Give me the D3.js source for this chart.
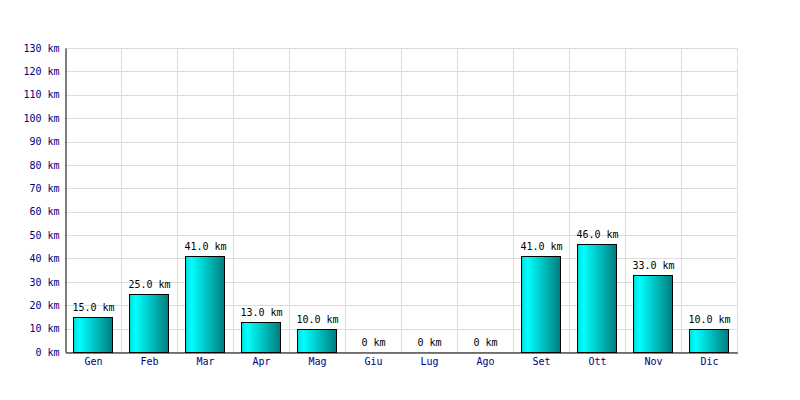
<!DOCTYPE html>
<html><head><meta charset="utf-8">
<script src="https://cdn.jsdelivr.net/npm/d3@7"></script>
<style>body{margin:0;background:#fff}svg{display:block}</style>
</head><body>
<script>
const months = ["Gen","Feb","Mar","Apr","Mag","Giu","Lug","Ago","Set","Ott","Nov","Dic"];
const km = [15,25,41,13,10,0,0,0,41,46,33,10];
const yTicks = [0,10,20,30,40,50,60,70,80,90,100,110,120,130];

const W=800,H=400, L=65, R=737, T=48, B=352;
const svg = d3.select("body").append("svg").attr("width",W).attr("height",H);
const font = "'DejaVu Sans Mono', monospace";

const defs = svg.append("defs");
const g = defs.append("linearGradient").attr("id","bg").attr("x1","0").attr("x2","1").attr("y1","0").attr("y2","0");
g.append("stop").attr("offset","0%").attr("stop-color","#00dcdc");
g.append("stop").attr("offset","15%").attr("stop-color","#00ffff");
g.append("stop").attr("offset","100%").attr("stop-color","#007c7c");

const x = d3.scaleBand().domain(months).range([L,R]).paddingInner(0).paddingOuter(0);
const y = d3.scaleLinear().domain([0,130]).range([B,T]);

// grid
svg.append("g").selectAll("line").data(yTicks).join("line")
  .attr("x1",L).attr("x2",R).attr("y1",d=>Math.round(y(d))+0.5).attr("y2",d=>Math.round(y(d))+0.5)
  .attr("stroke","#dcdcdc");
const vx = months.map(m=>x(m)+x.bandwidth()).concat([]);
svg.append("g").selectAll("line").data(vx).join("line")
  .attr("x1",d=>Math.round(d)+0.5).attr("x2",d=>Math.round(d)+0.5).attr("y1",T).attr("y2",B)
  .attr("stroke","#dcdcdc");

// bars
const bw = x.bandwidth()*0.7;
svg.append("g").selectAll("rect").data(km.map((v,i)=>({m:months[i],v}))).join("rect")
  .attr("x",d=>Math.round(x(d.m)+(x.bandwidth()-bw)/2)+0.5)
  .attr("width",Math.round(bw))
  .attr("y",d=>Math.round(y(d.v))+0.5)
  .attr("height",d=>Math.max(0,Math.round(B-y(d.v))))
  .attr("fill","url(#bg)").attr("stroke","#000").attr("stroke-width",1);

// value labels
svg.append("g").selectAll("text").data(km.map((v,i)=>({m:months[i],v}))).join("text")
  .attr("x",d=>x(d.m)+x.bandwidth()/2+0.5)
  .attr("y",d=>y(d.v)-6)
  .attr("text-anchor","middle").attr("font-family",font).attr("font-size",10).attr("fill","#000")
  .text(d=>d.v.toFixed(1).replace(/^0\.0$/,"0")+" km");

// axes
const yAxis = d3.axisLeft(y).tickValues(yTicks).tickSize(0).tickPadding(6).tickFormat(d=>d+" km");
const ya = svg.append("g").attr("transform",`translate(${L+0.5},0)`).call(yAxis);
ya.select(".domain").attr("stroke","#000");
ya.selectAll("text").attr("font-family",font).attr("font-size",10).attr("fill","#000080");

const xAxis = d3.axisBottom(x).tickSize(0).tickPadding(5);
const xa = svg.append("g").attr("transform",`translate(0.5,${B+0.5})`).call(xAxis);
xa.select(".domain").attr("stroke","#000");
xa.selectAll("text").attr("font-family",font).attr("font-size",10).attr("fill","#000080");
</script>
</body></html>
